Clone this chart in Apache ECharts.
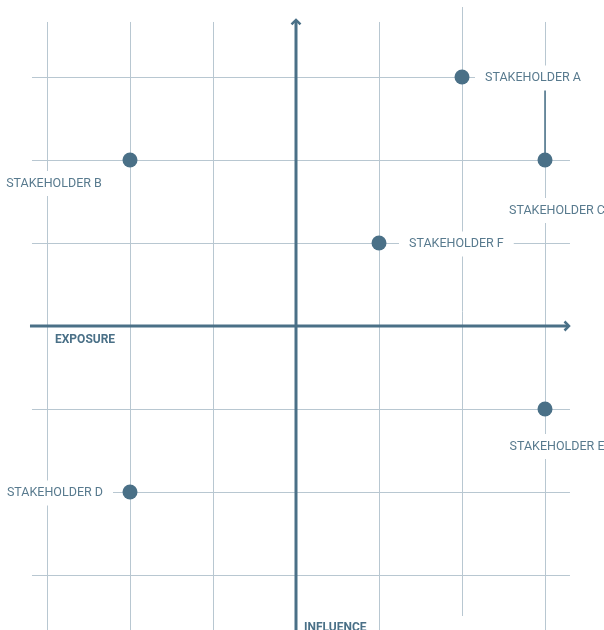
<!DOCTYPE html>
<html><head><meta charset="utf-8">
<script src="https://cdn.jsdelivr.net/npm/echarts@6/dist/echarts.min.js"></script>
<style>html,body{margin:0;padding:0;background:#fff}#c{width:604px;height:630px}</style>
</head><body><div id="c"></div>
<script>
// ---- data ----
const stakeholders = ['STAKEHOLDER A','STAKEHOLDER B','STAKEHOLDER C','STAKEHOLDER D','STAKEHOLDER E','STAKEHOLDER F'];
const exposure  = [2, -2, 3, -2, 3, 1];
const influence = [3,  2, 2, -2, -1, 1];
const gridXTicks = [-3, -2, -1, 1, 2, 3];
const gridYTicks = [-3, -2, -1, 1, 2, 3];
const xAxisName = 'EXPOSURE';
const yAxisName = 'INFLUENCE';

// ---- styling / layout ----
const DARK = '#4a7087';
const GRID = '#b8c7d1';
const TEXT = '#587a8e';
const FONT = 'Roboto, "DejaVu Sans", sans-serif';

// line extents in data units
const vTop = 3.663, vBottom = -3.663;
const hLeft = -3.181, hRight = 3.301;
const gridSegs = [];
gridXTicks.forEach(x => {
  if (x === 2) gridSegs.push([x, -3.494, x, 3.843]);
  else gridSegs.push([x, vBottom, x, vTop]);
});
gridYTicks.forEach(y => gridSegs.push([hLeft, y, hRight, y]));
const leaderSegs = [[3, 2.855, 3, 2]];
const axisSegs = [[-3.205, 0, 3.277, 0], [0, -3.663, 0, 3.675]];

// label placement relative to symbol bounding box (15x15)
const labelPlacement = [
  {position: [20.5, 8.5], align: 'left', verticalAlign: 'middle'},
  {position: [-68.5, 31], align: 'center', verticalAlign: 'middle'},
  {position: [19.5, 58], align: 'center', verticalAlign: 'middle'},
  {position: [-9.5, 8.5], align: 'right', verticalAlign: 'middle'},
  {position: [19.5, 45], align: 'center', verticalAlign: 'middle'},
  {position: [27.5, 8.5], align: 'left', verticalAlign: 'middle'}
];

const points = stakeholders.map((n, i) => ({
  name: n,
  value: [exposure[i], influence[i]],
  label: labelPlacement[i]
}));

function crisp(v) { return Math.round(v) + 0.5; }

function segRenderer(color, width, arrow) {
  return function (params, api) {
    const p1 = api.coord([api.value(0), api.value(1)]);
    const p2 = api.coord([api.value(2), api.value(3)]);
    let x1 = p1[0], y1 = p1[1], x2 = p2[0], y2 = p2[1];
    if (width === 1) {
      if (Math.abs(x1 - x2) < 0.01) { x1 = x2 = crisp(x1); }
      else { y1 = y2 = crisp(y1); }
    }
    const children = [{
      type: 'line',
      shape: {x1, y1, x2, y2},
      style: {stroke: color, lineWidth: width, lineCap: 'butt'}
    }];
    if (arrow) {
      const dx = x2 - x1, dy = y2 - y1;
      const len = Math.sqrt(dx * dx + dy * dy);
      const ux = dx / len, uy = dy / len;
      const px = -uy, py = ux;
      const back = 4.5, half = 4.5;
      const tx = x2 + ux * 1, ty = y2 + uy * 1;
      children.push({
        type: 'polyline',
        shape: {points: [
          [tx - ux * back + px * half, ty - uy * back + py * half],
          [tx, ty],
          [tx - ux * back - px * half, ty - uy * back - py * half]
        ]},
        style: {stroke: color, lineWidth: 2.5, fill: null, lineJoin: 'miter'}
      });
    }
    return {type: 'group', children};
  };
}

const chart = echarts.init(document.getElementById('c'), null, {renderer: 'canvas'});
chart.setOption({
  animation: false,
  backgroundColor: '#fff',
  grid: {left: 47, right: 59, top: 77, bottom: 55},
  xAxis: {type: 'value', min: -3, max: 3, interval: 1, show: false},
  yAxis: {type: 'value', min: -3, max: 3, interval: 1, show: false},
  graphic: [
    {type: 'text', left: 55, top: 334, z: 10,
     style: {text: xAxisName, fill: DARK, font: 'bold 12px ' + FONT}},
    {type: 'text', left: 304, top: 622, z: 10,
     style: {text: yAxisName, fill: DARK, font: 'bold 12px ' + FONT}}
  ],
  series: [
    {
      type: 'custom', z: 1, silent: true,
      dimensions: ['x1', 'y1', 'x2', 'y2'],
      encode: {x: [0, 2], y: [1, 3]},
      renderItem: segRenderer(GRID, 1, false),
      data: gridSegs
    },
    {
      type: 'custom', z: 2, silent: true,
      dimensions: ['x1', 'y1', 'x2', 'y2'],
      encode: {x: [0, 2], y: [1, 3]},
      renderItem: segRenderer(DARK, 1.5, false),
      data: leaderSegs
    },
    {
      type: 'custom', z: 3, silent: true,
      dimensions: ['x1', 'y1', 'x2', 'y2'],
      encode: {x: [0, 2], y: [1, 3]},
      renderItem: segRenderer(DARK, 3, true),
      data: axisSegs
    },
    {
      type: 'scatter', z: 5, clip: false,
      symbol: 'circle', symbolSize: 15,
      itemStyle: {color: DARK, opacity: 1},
      label: {
        show: true,
        formatter: '{b}',
        color: TEXT,
        fontFamily: FONT,
        fontSize: 12.5,
        backgroundColor: '#fff',
        padding: [6, 10]
      },
      labelLayout: {hideOverlap: false},
      data: points
    }
  ]
});
</script>
</body></html>
